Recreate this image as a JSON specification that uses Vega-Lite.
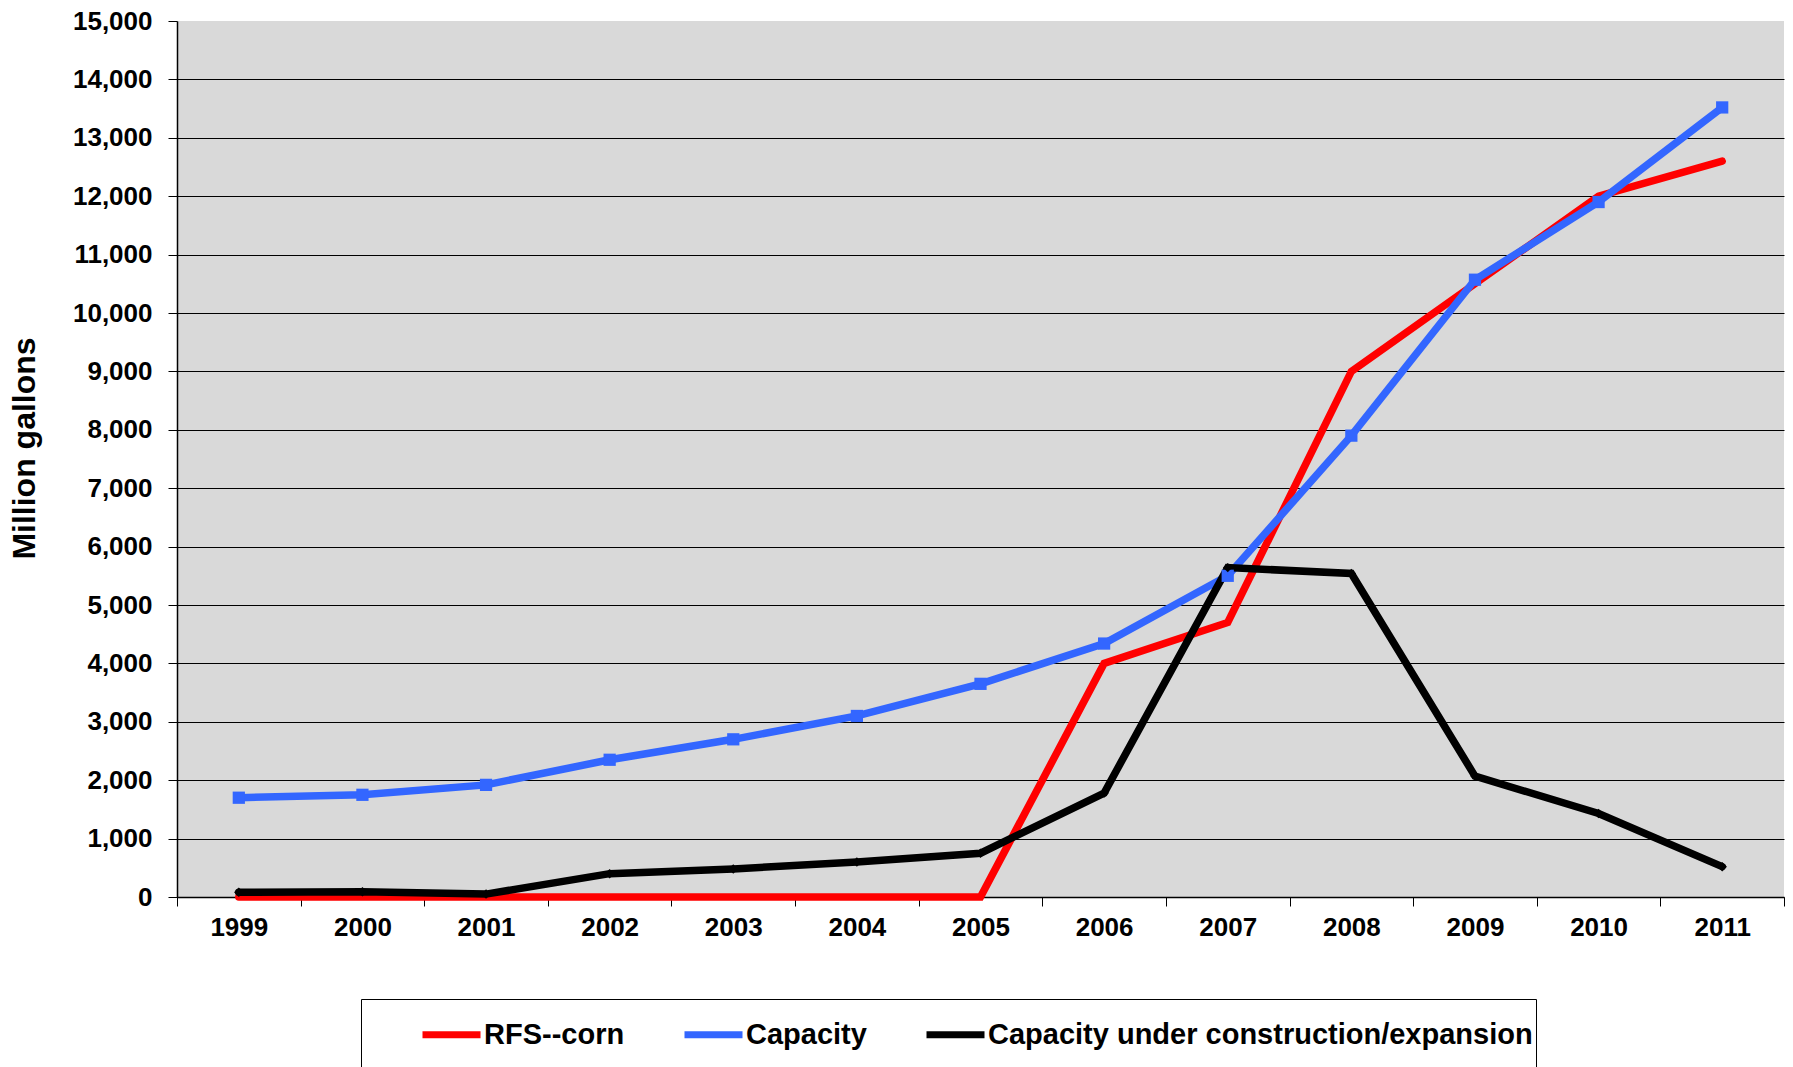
{
  "$schema": "https://vega.github.io/schema/vega-lite/v6.json",
  "width": 1607,
  "height": 876,
  "autosize": {"type": "none"},
  "padding": {"left": 177, "top": 21, "right": 9, "bottom": 170},
  "background": "white",
  "config": {
    "view": {"fill": "#D9D9D9", "stroke": null},
    "font": "Liberation Sans",
    "axis": {"labelFont": "Liberation Sans", "titleFont": "Liberation Sans", "labelColor": "black", "titleColor": "black", "domainColor": "black", "tickColor": "black"}
  },
  "data": {"values": [
    {"year": "1999", "series": "RFS--corn", "value": 0},
    {"year": "2000", "series": "RFS--corn", "value": 0},
    {"year": "2001", "series": "RFS--corn", "value": 0},
    {"year": "2002", "series": "RFS--corn", "value": 0},
    {"year": "2003", "series": "RFS--corn", "value": 0},
    {"year": "2004", "series": "RFS--corn", "value": 0},
    {"year": "2005", "series": "RFS--corn", "value": 0},
    {"year": "2006", "series": "RFS--corn", "value": 4000},
    {"year": "2007", "series": "RFS--corn", "value": 4700},
    {"year": "2008", "series": "RFS--corn", "value": 9000},
    {"year": "2009", "series": "RFS--corn", "value": 10500},
    {"year": "2010", "series": "RFS--corn", "value": 12000},
    {"year": "2011", "series": "RFS--corn", "value": 12600},
    {"year": "1999", "series": "Capacity", "value": 1700},
    {"year": "2000", "series": "Capacity", "value": 1750},
    {"year": "2001", "series": "Capacity", "value": 1920},
    {"year": "2002", "series": "Capacity", "value": 2350},
    {"year": "2003", "series": "Capacity", "value": 2700},
    {"year": "2004", "series": "Capacity", "value": 3100},
    {"year": "2005", "series": "Capacity", "value": 3650},
    {"year": "2006", "series": "Capacity", "value": 4340},
    {"year": "2007", "series": "Capacity", "value": 5500},
    {"year": "2008", "series": "Capacity", "value": 7900},
    {"year": "2009", "series": "Capacity", "value": 10570},
    {"year": "2010", "series": "Capacity", "value": 11900},
    {"year": "2011", "series": "Capacity", "value": 13520},
    {"year": "1999", "series": "Capacity under construction/expansion", "value": 80},
    {"year": "2000", "series": "Capacity under construction/expansion", "value": 90},
    {"year": "2001", "series": "Capacity under construction/expansion", "value": 50},
    {"year": "2002", "series": "Capacity under construction/expansion", "value": 400},
    {"year": "2003", "series": "Capacity under construction/expansion", "value": 480},
    {"year": "2004", "series": "Capacity under construction/expansion", "value": 600},
    {"year": "2005", "series": "Capacity under construction/expansion", "value": 750},
    {"year": "2006", "series": "Capacity under construction/expansion", "value": 1780},
    {"year": "2007", "series": "Capacity under construction/expansion", "value": 5640},
    {"year": "2008", "series": "Capacity under construction/expansion", "value": 5540},
    {"year": "2009", "series": "Capacity under construction/expansion", "value": 2070},
    {"year": "2010", "series": "Capacity under construction/expansion", "value": 1430},
    {"year": "2011", "series": "Capacity under construction/expansion", "value": 520}
  ]},
  "encoding": {
    "x": {
      "field": "year", "type": "ordinal",
      "scale": {"type": "band", "paddingInner": 0, "paddingOuter": 0},
      "axis": {
        "title": null, "labelAngle": 0, "labelFontSize": 26, "labelFontWeight": "bold",
        "tickBand": "extent", "tickSize": 9, "labelPadding": 8, "domainWidth": 1.5, "grid": false
      }
    },
    "y": {
      "field": "value", "type": "quantitative",
      "scale": {"domain": [0, 15000], "nice": false},
      "axis": {
        "title": "Million gallons", "titleFontSize": 32, "titleFontWeight": "bold", "titlePadding": 31, "titleY": 427,
        "values": [0, 1000, 2000, 3000, 4000, 5000, 6000, 7000, 8000, 9000, 10000, 11000, 12000, 13000, 14000, 15000],
        "format": ",d", "labelFontSize": 26, "labelFontWeight": "bold", "labelPadding": 16, "tickSize": 9,
        "grid": true, "gridWidth": 1.2,
        "gridColor": {"condition": {"test": "datum.value == 15000", "value": "transparent"}, "value": "black"},
        "domainWidth": 1.5
      }
    }
  },
  "layer": [
    {
      "mark": {"type": "line", "strokeWidth": 7.5, "strokeJoin": "miter", "strokeCap": "round"},
      "encoding": {
        "color": {
          "field": "series", "type": "nominal",
          "scale": {"domain": ["RFS--corn", "Capacity", "Capacity under construction/expansion"], "range": ["#FF0000", "#3366FF", "#000000"]},
          "legend": {
            "title": " ", "titleOrient": "left", "titleFontSize": 90, "titleBaseline": "top", "titlePadding": 55,
            "orient": "none", "direction": "horizontal",
            "legendX": 184, "legendY": 978,
            "padding": 3, "strokeColor": "black", "fillColor": "white",
            "symbolType": "stroke", "symbolSize": 3364, "symbolStrokeWidth": 7,
            "labelFontSize": 29, "labelFontWeight": "bold", "labelColor": "black", "labelFont": "Liberation Sans",
            "labelOffset": 0, "columnPadding": 45, "labelLimit": 1000
          }
        }
      }
    },
    {
      "transform": [{"filter": "datum.series == 'Capacity'"}],
      "mark": {"type": "point", "shape": "square", "filled": true, "size": 150, "color": "#3366FF", "opacity": 1}
    },
    {
      "transform": [{"filter": "datum.series == 'Capacity under construction/expansion'"}],
      "mark": {"type": "point", "shape": "diamond", "filled": true, "size": 90, "color": "#000000", "opacity": 1}
    }
  ]
}
